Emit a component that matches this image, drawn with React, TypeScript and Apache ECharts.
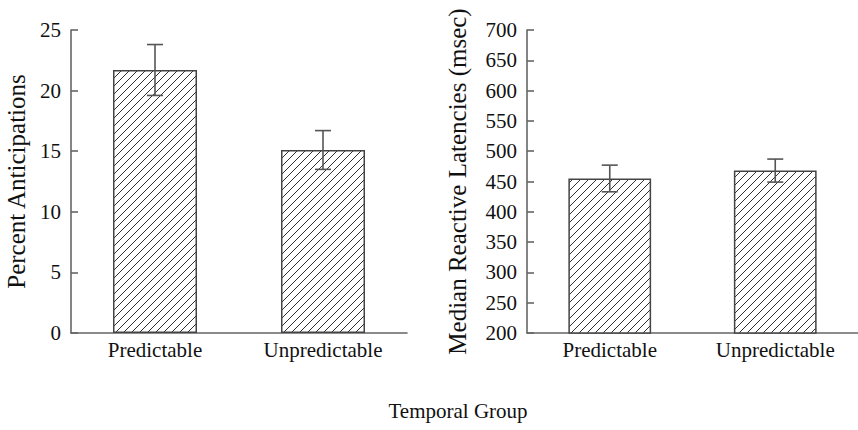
import React, { useEffect, useRef } from "react";
import * as echarts from "echarts";

const categories = ["Predictable", "Unpredictable"];
const anticipationValues = [21.7, 15.1];
const anticipationErrors = [2.1, 1.6];
const latencyValues = [455, 468];
const latencyErrors = [22, 19];
const leftTicks = { min: 0, max: 25, interval: 5 };
const rightTicks = { min: 200, max: 700, interval: 50 };
const leftAxisName = "Percent Anticipations";
const rightAxisName = "Median Reactive Latencies (msec)";
const sharedXLabel = "Temporal Group";

const FONT = "'Liberation Serif', 'DejaVu Serif', serif";
const TEXT = "#111";
const AXIS = "#666";

function makeHatch(): HTMLCanvasElement {
  const c = document.createElement("canvas");
  c.width = 8;
  c.height = 8;
  const ctx = c.getContext("2d")!;
  ctx.fillStyle = "#fff";
  ctx.fillRect(0, 0, 8, 8);
  ctx.strokeStyle = "#333";
  ctx.lineWidth = 1;
  ctx.beginPath();
  ctx.moveTo(0, 8);
  ctx.lineTo(8, 0);
  ctx.moveTo(-1, 1);
  ctx.lineTo(1, -1);
  ctx.moveTo(7, 9);
  ctx.lineTo(9, 7);
  ctx.stroke();
  return c;
}

function errorRender(params: any, api: any) {
  const x = api.value(0);
  const v = api.value(1);
  const e = api.value(2);
  const top = api.coord([x, v + e]);
  const bot = api.coord([x, v - e]);
  const half = 8;
  const style = { stroke: "#555", lineWidth: 1.6 };
  return {
    type: "group",
    children: [
      { type: "line", shape: { x1: top[0], y1: top[1], x2: bot[0], y2: bot[1] }, style },
      { type: "line", shape: { x1: top[0] - half, y1: top[1], x2: top[0] + half, y2: top[1] }, style },
      { type: "line", shape: { x1: bot[0] - half, y1: bot[1], x2: bot[0] + half, y2: bot[1] }, style },
    ],
  };
}

export default function App() {
  const ref = useRef<HTMLDivElement>(null);
  useEffect(() => {
    if (!ref.current) return;
    const chart = echarts.init(ref.current, undefined, { renderer: "svg" });
    const hatch = makeHatch();
    const pattern: any = { image: hatch, repeat: "repeat", imageWidth: 8, imageHeight: 8 };

    const xAxisBase = (gridIndex: number) => ({
      type: "category",
      gridIndex,
      data: categories,
      axisLine: { lineStyle: { color: AXIS, width: 1.6 } },
      axisTick: { show: false },
      axisLabel: { color: TEXT, fontFamily: FONT, fontSize: 21, margin: 6 },
    });
    const yAxisBase = (gridIndex: number, t: any, name: string, gap: number) => ({
      type: "value",
      gridIndex,
      min: t.min,
      max: t.max,
      interval: t.interval,
      name,
      nameLocation: "middle",
      nameRotate: 90,
      nameGap: gap,
      nameTextStyle: { color: TEXT, fontFamily: FONT, fontSize: 25 },
      axisLine: { show: true, lineStyle: { color: AXIS, width: 1.6 } },
      axisTick: { show: true, inside: true, length: 7, lineStyle: { color: AXIS, width: 1.6 } },
      axisLabel: { color: TEXT, fontFamily: FONT, fontSize: 21, margin: 10 },
      splitLine: { show: false },
    });

    const barStyle = { color: pattern, borderColor: "#444", borderWidth: 1.5 };

    chart.setOption({
      animation: false,
      backgroundColor: "#fff",
      grid: [
        { left: 71, top: 30, width: 336, height: 303 },
        { left: 527, top: 30, width: 337, height: 303 },
      ],
      xAxis: [xAxisBase(0), xAxisBase(1)],
      yAxis: [
        yAxisBase(0, leftTicks, leftAxisName, 42),
        yAxisBase(1, rightTicks, rightAxisName, 57),
      ],
      series: [
        {
          type: "bar",
          xAxisIndex: 0,
          yAxisIndex: 0,
          barWidth: "50%",
          data: anticipationValues,
          itemStyle: barStyle,
        },
        {
          type: "bar",
          xAxisIndex: 1,
          yAxisIndex: 1,
          barWidth: "50%",
          data: latencyValues,
          itemStyle: barStyle,
        },
        {
          type: "custom",
          xAxisIndex: 0,
          yAxisIndex: 0,
          renderItem: errorRender,
          encode: { x: 0, y: 1 },
          data: anticipationValues.map((v, i) => [i, v, anticipationErrors[i]]),
          z: 10,
        },
        {
          type: "custom",
          xAxisIndex: 1,
          yAxisIndex: 1,
          renderItem: errorRender,
          encode: { x: 0, y: 1 },
          data: latencyValues.map((v, i) => [i, v, latencyErrors[i]]),
          z: 10,
        },
      ],
      graphic: [
        {
          type: "text",
          x: 458,
          y: 411,
          style: {
            text: sharedXLabel,
            fill: TEXT,
            font: `21px ${FONT}`,
            align: "center",
            verticalAlign: "middle",
          },
        },
      ],
    });
    return () => chart.dispose();
  }, []);
  return (
    <div
      ref={ref}
      style={{ position: "fixed", left: 0, top: 0, width: 858, height: 430 }}
    />
  );
}
